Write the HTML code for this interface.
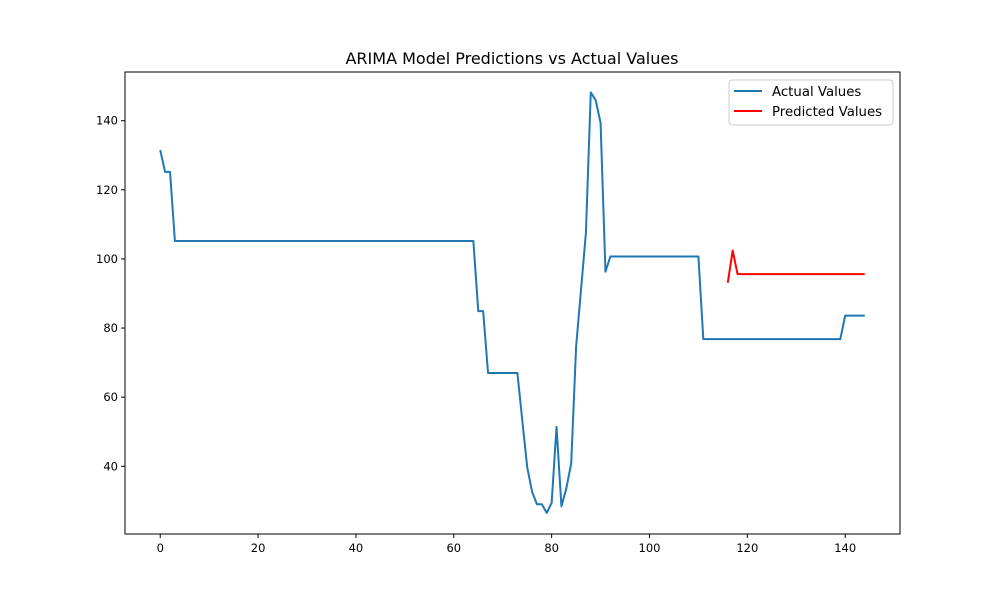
<!DOCTYPE html>
<html><head><meta charset="utf-8"><style>
body{margin:0;background:#fff}
svg{display:block;font-family:"DejaVu Sans","Liberation Sans",sans-serif}
</style></head><body>
<svg id="chart" width="1000" height="600" viewBox="0 0 1000 600">
<rect width="1000" height="600" fill="#fff"/>
<text x="512" y="64" text-anchor="middle" font-size="16">ARIMA Model Predictions vs Actual Values</text>
<g id="ticks"></g>
<g id="series"></g>
<rect x="125" y="72" width="775" height="462" fill="none" stroke="#000" stroke-width="1"/>
<g>
<rect x="729" y="80" width="164" height="45" rx="3" fill="#fff" fill-opacity="0.8" stroke="#ccc"/>
<line x1="734" y1="91" x2="762" y2="91" stroke="#1f77b4" stroke-width="2"/>
<text x="772" y="96" font-size="13.3">Actual Values</text>
<line x1="734" y1="111" x2="762" y2="111" stroke="#ff0000" stroke-width="2"/>
<text x="772" y="116" font-size="13.3">Predicted Values</text>
</g>
</svg>
<script>
const actualX = [0,1,2,3,64,65,66,67,73,74,75,76,77,78,79,80,81,82,83,84,85,86,87,88,89,90,91,92,110,111,139,140,144];
const actualY = [131.5,125.2,125.2,105.2,105.2,84.9,84.9,67,67,53.3,39.8,32.6,29,29,26.5,29.4,51.4,28.4,33.6,40.9,74.6,91,107.5,148.2,145.9,139.4,96.3,100.7,100.7,76.8,76.8,83.6,83.6];
const predX = [116,117,118,144];
const predY = [93.1,102.4,95.6,95.6];
const xTicks = [0,20,40,60,80,100,120,140];
const yTicks = [40,60,80,100,120,140];
const xMin=-7.2,xMax=151.2,yMin=20.4,yMax=154.1;
const L=125,R=900,T=72,B=534;
function sx(v){return L+(v-xMin)/(xMax-xMin)*(R-L);}
function sy(v){return B-(v-yMin)/(yMax-yMin)*(B-T);}
const NS="http://www.w3.org/2000/svg";
const tg=document.getElementById('ticks'), sg=document.getElementById('series');
function mk(tag,attrs,parent){const e=document.createElementNS(NS,tag);for(const k in attrs)e.setAttribute(k,attrs[k]);parent.appendChild(e);return e;}
xTicks.forEach(t=>{
  const l=mk('line',{x1:sx(t),x2:sx(t),y1:B,y2:B+4,stroke:'#000'},tg);
  
  
  const tx=mk('text',{x:sx(t),y:B+18,'text-anchor':'middle','font-size':'11.5'},tg);
  tx.textContent=t;
  
  
});
yTicks.forEach(t=>{
  const l=mk('line',{x1:L-4,x2:L,y1:sy(t),y2:sy(t),stroke:'#000'},tg);
  
  
  const tx=mk('text',{x:L-7,y:sy(t)+4,'text-anchor':'end','font-size':'11.5'},tg);
  tx.textContent=t;
  
  
});
function line(xs,ys,color){
  return mk('polyline',{points:xs.map((x,i)=>sx(x)+','+sy(ys[i])).join(' '),fill:'none',stroke:color,'stroke-width':2,'stroke-linejoin':'round'},sg);
}
const a=line(actualX,actualY,'#1f77b4');


const p=line(predX,predY,'#ff0000');


</script>
</body></html>
